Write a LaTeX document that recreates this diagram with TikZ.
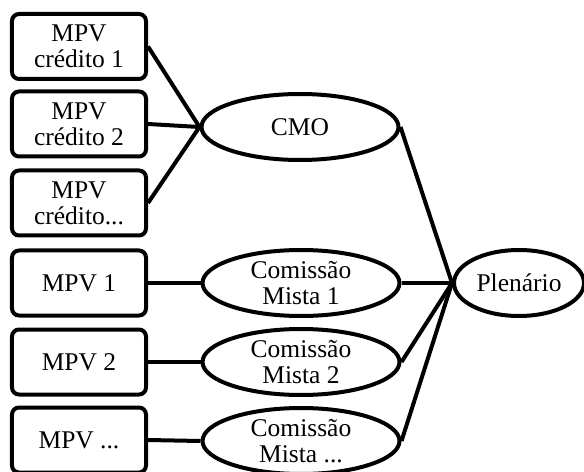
\documentclass[tikz,border=0pt]{standalone}
\usepackage{fontspec}
\setmainfont{Liberation Serif}
\usetikzlibrary{shapes.geometric}
\begin{document}
\begin{tikzpicture}[x=1bp,y=-1bp,line width=4bp,
  font=\fontsize{25.5bp}{26bp}\selectfont,
  mpv/.style={draw,rectangle,rounded corners=7bp,minimum width=134bp,minimum height=65bp,inner sep=0pt,align=center},
  ell/.style={draw,ellipse,minimum width=197bp,minimum height=66bp,inner sep=0pt,align=center},
  conn/.style={line width=4bp}]
\useasboundingbox (0,0) rectangle (584,472);
\node[mpv] (b1) at (79,46.5) {MPV\\crédito 1};
\node[mpv] (b2) at (79,124) {MPV\\crédito 2};
\node[mpv] (b3) at (79,203) {MPV\\crédito...};
\node[mpv] (b4) at (79,283) {MPV 1};
\node[mpv] (b5) at (79,362) {MPV 2};
\node[mpv] (b6) at (79,440) {MPV ...};
\node[ell] (cmo) at (300,127) {CMO};
\node[ell] (m1) at (301,283) {Comissão\\Mista 1};
\node[ell] (m2) at (301,362) {Comissão\\Mista 2};
\node[ell] (m3) at (301,441) {Comissão\\Mista ...};
\node[ell,minimum width=130bp] (pl) at (519,283) {Plenário};
\draw[conn] (b1.east) -- (cmo.west);
\draw[conn] (b2.east) -- (cmo.west);
\draw[conn] (b3.east) -- (cmo.west);
\draw[conn] (b4.east) -- (m1.west);
\draw[conn] (b5.east) -- (m2.west);
\draw[conn] (b6.east) -- (m3.west);
\draw[conn] (cmo.east) -- (pl.west);
\draw[conn] (m1.east) -- (pl.west);
\draw[conn] (m2.east) -- (pl.west);
\draw[conn] (m3.east) -- (pl.west);
\end{tikzpicture}
\end{document}
